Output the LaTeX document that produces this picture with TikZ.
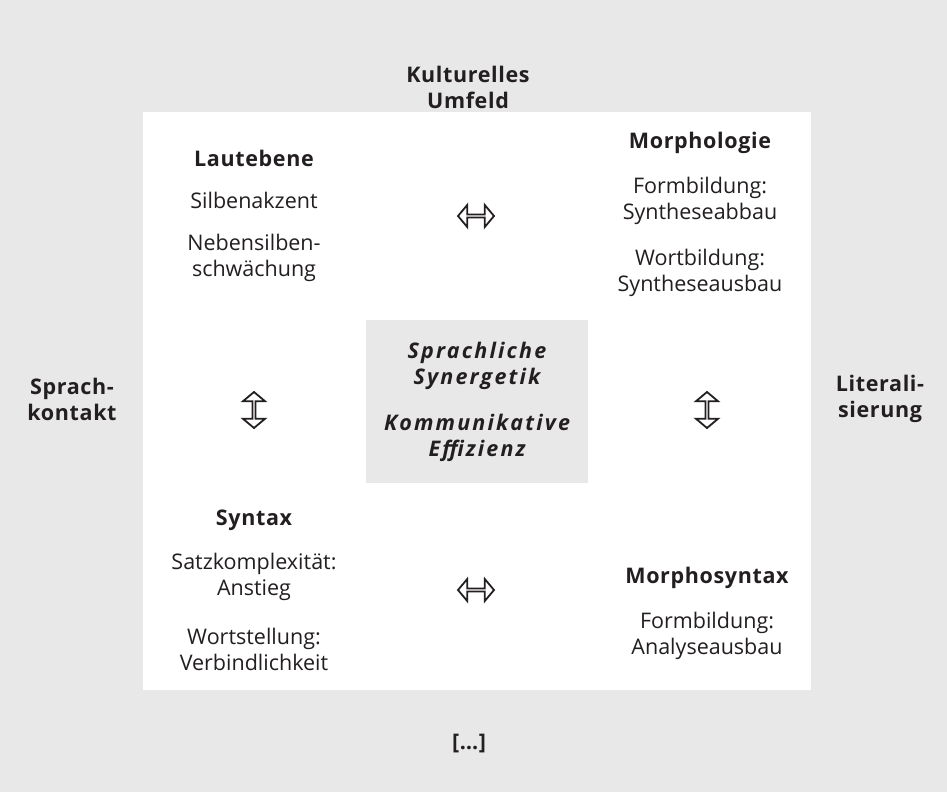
\documentclass[tikz,border=0pt]{standalone}
\usepackage{fontspec}
\setmainfont{Open Sans}
\newfontfamily\headfont{Open Sans}[LetterSpace=3]
\newfontfamily\corefont{Open Sans}[LetterSpace=10]
\usetikzlibrary{shapes.arrows}
\definecolor{panel}{RGB}{232,232,233}
\definecolor{ink}{RGB}{35,31,32}
\begin{document}
\begin{tikzpicture}[x=1pt,y=-1pt,
  every node/.style={text=ink,align=center,inner sep=0pt},
  head/.style={font=\fontsize{21.5}{26}\selectfont\headfont\bfseries},
  item/.style={font=\fontsize{21.5}{26}\selectfont},
  core/.style={font=\fontsize{21.5}{26}\selectfont\corefont\bfseries\itshape},
  harrow/.style={double arrow,draw=ink,line width=1.8pt,fill=white,
    minimum width=22pt,minimum height=36pt,double arrow head extend=6pt,
    double arrow tip angle=100,inner sep=0pt},
  varrow/.style={harrow,rotate=90}]
  % backgrounds
  \fill[panel] (0,0) rectangle (947,792);
  \fill[white] (143,112) rectangle (811,690);
  \fill[panel] (366,320) rectangle (588,483);
  \useasboundingbox (0,0) rectangle (947,792);

  % surrounding factors
  \node[head] (kultur) at (468,87) {Kulturelles\\Umfeld};
  \node[head] (kontakt) at (72,399) {Sprach-\\kontakt};
  \node[head] (literal) at (880,399) {Literali-\\sierung};
  \node[head] (etc) at (469,744) {[\dots]};

  % four language levels
  \node[head] (laut) at (254,158) {Lautebene};
  \node[item] (laut1) at (254,200) {Silbenakzent};
  \node[item] (laut2) at (254,258) {Nebensilben-\\schwächung};

  \node[head] (morph) at (700,143) {Morphologie};
  \node[item] (morph1) at (700,201) {Formbildung:\\Syntheseabbau};
  \node[item] (morph2) at (700,273) {Wortbildung:\\Syntheseausbau};

  \node[head] (syn) at (254,520) {Syntax};
  \node[item] (syn1) at (254,577) {Satzkomplexität:\\Anstieg};
  \node[item] (syn2) at (254,649) {Wortstellung:\\Verbindlichkeit};

  \node[head] (msyn) at (707,578) {Morphosyntax};
  \node[item] (msyn1) at (707,636) {Formbildung:\\Analyseausbau};

  % centre
  \node[core] (core1) at (477,366) {Sprachliche\\Synergetik};
  \node[core] (core2) at (477,438) {Kommunikative\\Effizienz};

  % interactions
  \node[harrow] (a1) at (476,216) {};
  \node[harrow] (a2) at (476,590) {};
  \node[varrow] (a3) at (254,410) {};
  \node[varrow] (a4) at (707,410) {};
\end{tikzpicture}
\end{document}
